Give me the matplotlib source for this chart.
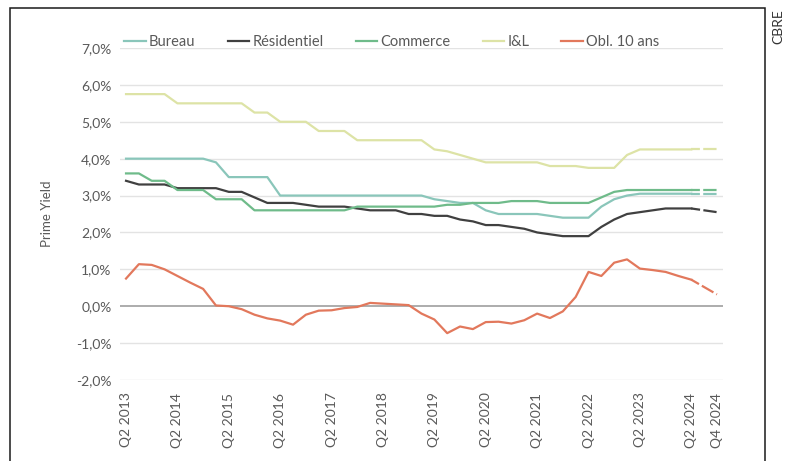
import matplotlib
matplotlib.use("Agg")
import matplotlib.pyplot as plt
from matplotlib.patches import Rectangle
from matplotlib.ticker import FuncFormatter

plt.rcParams['font.family'] = ['Lato', 'DejaVu Sans']

# quarterly periods Q2 2013 .. Q4 2024
quarters = []
for y in range(2013, 2025):
    for q in (1, 2, 3, 4):
        if (y == 2013 and q < 2):
            continue
        quarters.append(f"Q{q} {y}")

bureau = [4.0, 4.0, 4.0, 4.0, 4.0, 4.0, 4.0, 3.9, 3.5, 3.5, 3.5, 3.5,
          3.0, 3.0, 3.0, 3.0, 3.0, 3.0, 3.0, 3.0, 3.0, 3.0, 3.0, 3.0,
          2.9, 2.85, 2.8, 2.8, 2.6, 2.5, 2.5, 2.5, 2.5, 2.45, 2.4, 2.4,
          2.4, 2.7, 2.9, 3.0, 3.05, 3.05, 3.05, 3.05, 3.05, 3.05, 3.05]
residentiel = [3.4, 3.3, 3.3, 3.3, 3.2, 3.2, 3.2, 3.2, 3.1, 3.1, 2.95, 2.8,
               2.8, 2.8, 2.75, 2.7, 2.7, 2.7, 2.65, 2.6, 2.6, 2.6, 2.5, 2.5,
               2.45, 2.45, 2.35, 2.3, 2.2, 2.2, 2.15, 2.1, 2.0, 1.95, 1.9, 1.9,
               1.9, 2.15, 2.35, 2.5, 2.55, 2.6, 2.65, 2.65, 2.65, 2.6, 2.55]
commerce = [3.6, 3.6, 3.4, 3.4, 3.15, 3.15, 3.15, 2.9, 2.9, 2.9, 2.6, 2.6,
            2.6, 2.6, 2.6, 2.6, 2.6, 2.6, 2.7, 2.7, 2.7, 2.7, 2.7, 2.7,
            2.7, 2.75, 2.75, 2.8, 2.8, 2.8, 2.85, 2.85, 2.85, 2.8, 2.8, 2.8,
            2.8, 2.95, 3.1, 3.15, 3.15, 3.15, 3.15, 3.15, 3.15, 3.15, 3.15]
il = [5.75, 5.75, 5.75, 5.75, 5.5, 5.5, 5.5, 5.5, 5.5, 5.5, 5.25, 5.25,
      5.0, 5.0, 5.0, 4.75, 4.75, 4.75, 4.5, 4.5, 4.5, 4.5, 4.5, 4.5,
      4.25, 4.2, 4.1, 4.0, 3.9, 3.9, 3.9, 3.9, 3.9, 3.8, 3.8, 3.8,
      3.75, 3.75, 3.75, 4.1, 4.25, 4.25, 4.25, 4.25, 4.25, 4.25, 4.25]
obl10 = [0.75, 1.14, 1.12, 1.0, 0.82, 0.64, 0.47, 0.02, 0.0, -0.08, -0.23, -0.33,
         -0.39, -0.5, -0.23, -0.12, -0.11, -0.05, -0.02, 0.09, 0.07, 0.05, 0.03, -0.2,
         -0.36, -0.73, -0.55, -0.62, -0.43, -0.42, -0.47, -0.38, -0.2, -0.32, -0.14, 0.25,
         0.93, 0.82, 1.18, 1.27, 1.02, 0.98, 0.93, 0.82, 0.72, 0.52, 0.32]

series_names = ["Bureau", "Résidentiel", "Commerce", "I&L", "Obl. 10 ans"]
series_values = [bureau, residentiel, commerce, il, obl10]
series_colors = ["#8ac6ba", "#404040", "#6fbb8a", "#dde3a6", "#e2785c"]

tick_labels = ["Q2 2013", "Q2 2014", "Q2 2015", "Q2 2016", "Q2 2017", "Q2 2018",
               "Q2 2019", "Q2 2020", "Q2 2021", "Q2 2022", "Q2 2023", "Q2 2024", "Q4 2024"]
y_label = "Prime Yield"
source = "CBRE"

W, H = 793, 461
fig = plt.figure(figsize=(W / 100, H / 100), dpi=100)
ax = fig.add_axes([120 / W, 1 - 380 / H, (723 - 120) / W, (380 - 48) / H])

x = list(range(len(quarters)))
split = quarters.index("Q2 2024")
for name, vals, col in zip(series_names, series_values, series_colors):
    ax.plot(x[:split + 1], vals[:split + 1], color=col, lw=1.6, label=name,
            solid_joinstyle='round', zorder=3)
    ax.plot(x[split:], vals[split:], color=col, lw=1.6, ls=(2, (6, 1.5)),
            zorder=3)

ax.set_ylim(-2, 7)
ax.set_yticks([-2, -1, 0, 1, 2, 3, 4, 5, 6, 7])
ax.yaxis.set_major_formatter(FuncFormatter(lambda v, p: f"{v:.1f}%".replace(".", ",")))
ax.set_xlim(-0.47, len(quarters) - 1 + 0.47)
ax.set_xticks([quarters.index(t) for t in tick_labels])
ax.set_xticklabels(tick_labels, rotation=90)
ax.tick_params(axis='both', length=0, colors="#595959", labelsize=10)
ax.tick_params(axis='x', pad=9)
ax.tick_params(axis='y', pad=6)

for v in ax.get_yticks():
    ax.axhline(v, color="#a6a6a6" if v == 0 else "#e3e3e3", lw=1.3 if v == 0 else 1.0,
               zorder=1)
for s in ax.spines.values():
    s.set_visible(False)

ax.set_ylabel(y_label, color="#595959", fontsize=9.5, labelpad=17)

handles, labels = ax.get_legend_handles_labels()
leg = fig.legend(handles, labels, loc='center left',
                 bbox_to_anchor=(111 / W, 1 - 42 / H), ncol=5, frameon=False,
                 fontsize=10.5, handlelength=1.5, handletextpad=0.2,
                 columnspacing=2.2, labelcolor="#595959")

fig.add_artist(Rectangle((10 / W, -0.02), (765 - 10) / W, 1 - 8 / H + 0.02,
                         transform=fig.transFigure, fill=False,
                         edgecolor="#1a1a1a", lw=1.1))
fig.text(778 / W, 1 - 27 / H, source, rotation=90, ha='center', va='center',
         fontsize=10, color="#333333")

fig.savefig("out.png", dpi=100)
